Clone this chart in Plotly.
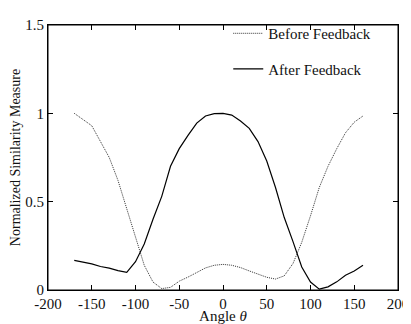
import plotly.graph_objects as go

angles = [-170, -160, -150, -140, -130, -120, -110, -100, -90, -80, -70, -60, -50, -40, -30, -20, -10,
          0, 10, 20, 30, 40, 50, 60, 70, 80, 90, 100, 110, 120, 130, 140, 150, 160]

before_feedback = [1.0, 0.965, 0.93, 0.84, 0.75, 0.62, 0.46, 0.29, 0.14, 0.045, 0.008, 0.015, 0.05,
                   0.073, 0.1, 0.125, 0.14, 0.145, 0.14, 0.127, 0.108, 0.09, 0.072, 0.062, 0.08,
                   0.15, 0.27, 0.42, 0.58, 0.70, 0.80, 0.89, 0.95, 0.985]

after_feedback = [0.168, 0.160, 0.148, 0.133, 0.124, 0.110, 0.100, 0.160, 0.26, 0.40, 0.53, 0.70,
                  0.80, 0.875, 0.945, 0.985, 0.998, 1.0, 0.99, 0.957, 0.915, 0.84, 0.73, 0.58,
                  0.41, 0.274, 0.13, 0.045, 0.005, 0.018, 0.046, 0.084, 0.108, 0.14]

x_ticks = [-200, -150, -100, -50, 0, 50, 100, 150, 200]
y_ticks = [0, 0.5, 1, 1.5]
y_tick_text = ["0", "0.5", "1", "1.5"]

font_family = "Liberation Serif, Times New Roman, serif"
text_color = "#111111"

fig = go.Figure()
fig.add_trace(go.Scatter(x=angles, y=before_feedback, mode="lines", name="Before Feedback",
                         legendgroup="a",
                         line=dict(color="#333333", width=1, dash="1px,1px")))
fig.add_trace(go.Scatter(x=angles, y=after_feedback, mode="lines", name="After Feedback",
                         legendgroup="b",
                         line=dict(color="#000000", width=1.2)))

axis_common = dict(showline=True, linecolor="black", linewidth=1, mirror="allticks",
                   ticks="inside", ticklen=5, tickcolor="black", showgrid=False,
                   zeroline=False, automargin=False,
                   tickfont=dict(family=font_family, size=15, color=text_color))

fig.update_xaxes(range=[-200, 200], tickvals=x_ticks, ticktext=[str(v) for v in x_ticks],
                 title=dict(text="Angle <i>θ</i>", font=dict(family=font_family, size=15, color=text_color),
                            standoff=9),
                 **axis_common)
fig.update_yaxes(range=[0, 1.5], tickvals=y_ticks, ticktext=y_tick_text,
                 title=dict(text="Normalized Similarity Measure",
                            font=dict(family=font_family, size=14, color=text_color), standoff=4),
                 **axis_common)

# axes box
fig.add_shape(type="rect", xref="paper", yref="paper", x0=0, y0=0, x1=1, y1=1,
              line=dict(color="black", width=1), fillcolor="rgba(0,0,0,0)", layer="above")

fig.update_layout(
    width=403, height=316,
    margin=dict(l=40, r=13, t=9, b=34),
    paper_bgcolor="white", plot_bgcolor="white",
    font=dict(family=font_family, size=15, color=text_color),
    showlegend=True,
    legend=dict(x=0.515, y=1.03, xanchor="left", yanchor="top", bgcolor="rgba(0,0,0,0)",
                traceorder="grouped", tracegroupgap=13,
                font=dict(family=font_family, size=15, color=text_color)),
)

fig.write_html("out.html")
